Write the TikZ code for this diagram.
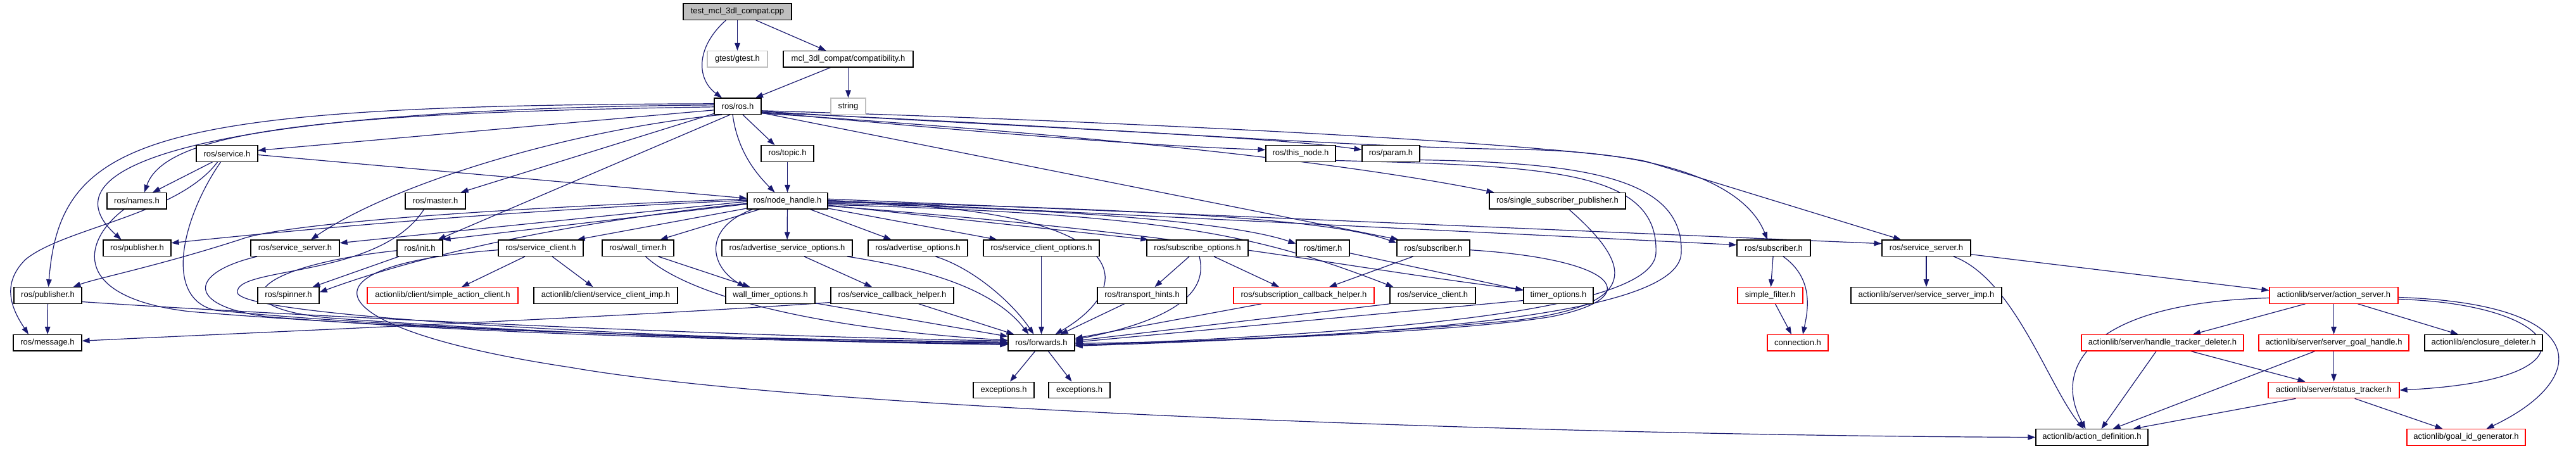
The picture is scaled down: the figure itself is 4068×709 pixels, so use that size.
\documentclass[tikz,border=0pt]{standalone}
\usepackage{fontspec}
\setmainfont{Liberation Sans}
\usetikzlibrary{arrows.meta}
\definecolor{edgeblue}{HTML}{191970}
\definecolor{nodered}{HTML}{FF0000}
\definecolor{nodegray}{HTML}{BFBFBF}
\pgfdeclarelayer{bg}
\pgfsetlayers{bg,main}
\newcommand{\nodelabelfont}{\fontsize{13}{15}\selectfont}
\tikzset{
  nd/.style={draw=black, line width=1.2pt, fill=white, minimum height=25.5pt, inner sep=0pt, font=\nodelabelfont},
  ndred/.style={nd, draw=nodered},
  ndgray/.style={nd, draw=nodegray},
  e/.style={draw=edgeblue, line width=1.2pt, -{Triangle[length=12pt,width=8.5pt]}},
}
\begin{document}
\begin{tikzpicture}[x=1pt,y=-1pt]
\useasboundingbox (0,0) rectangle (4068,709);
% row 1
\node[nd, fill=nodegray, minimum width=171pt] (T) at (1164.5,18.5) {test\_mcl\_3dl\_compat.cpp};
% row 2
\node[ndgray, minimum width=95pt] (gtest) at (1164.5,93.3) {gtest/gtest.h};
\node[nd, minimum width=205pt] (compat) at (1339.5,93.3) {mcl\_3dl\_compat/compatibility.h};
% row 3
\node[nd, minimum width=74pt] (ros) at (1165,167.8) {ros/ros.h};
\node[ndgray, minimum width=55pt] (string) at (1339.5,167.8) {string};
% row 4
\node[nd, minimum width=97pt] (service) at (358.5,242.5) {ros/service.h};
\node[nd, minimum width=83pt] (topic) at (1243.5,242.5) {ros/topic.h};
\node[nd, minimum width=110pt] (thisnode) at (2054,242.5) {ros/this\_node.h};
\node[nd, minimum width=91pt] (param) at (2196.5,242.5) {ros/param.h};
% row 5
\node[nd, minimum width=94pt] (names) at (216,317.2) {ros/names.h};
\node[nd, minimum width=95pt] (master) at (687.5,317.2) {ros/master.h};
\node[nd, minimum width=127pt] (nh) at (1243.5,317.2) {ros/node\_handle.h};
\node[nd, minimum width=215pt] (ssp) at (2459.5,317.2) {ros/single\_subscriber\_publisher.h};
% row 6
\node[nd, minimum width=107pt] (pubA) at (216.5,391.7) {ros/publisher.h};
\node[nd, minimum width=140pt] (ssrvA) at (466,391.7) {ros/service\_server.h};
\node[nd, minimum width=72pt] (init) at (663,391.7) {ros/init.h};
\node[nd, minimum width=134pt] (sclA) at (854,391.7) {ros/service\_client.h};
\node[nd, minimum width=113pt] (wtimer) at (1007.5,391.7) {ros/wall\_timer.h};
\node[nd, minimum width=206pt] (aso) at (1243,391.7) {ros/advertise\_service\_options.h};
\node[nd, minimum width=157pt] (ao) at (1449.5,391.7) {ros/advertise\_options.h};
\node[nd, minimum width=183pt] (sco) at (1644.5,391.7) {ros/service\_client\_options.h};
\node[nd, minimum width=160pt] (subo) at (1891,391.7) {ros/subscribe\_options.h};
\node[nd, minimum width=84pt] (timer) at (2089,391.7) {ros/timer.h};
\node[nd, minimum width=115pt] (subA) at (2263.5,391.7) {ros/subscriber.h};
\node[nd, minimum width=116pt] (subB) at (2801,391.7) {ros/subscriber.h};
\node[nd, minimum width=140pt] (ssrvB) at (3042,391.7) {ros/service\_server.h};
% row 7
\node[nd, minimum width=107pt] (pubB) at (75.5,466.5) {ros/publisher.h};
\node[nd, minimum width=97pt] (spinner) at (455.5,466.5) {ros/spinner.h};
\node[ndred, minimum width=238pt] (sac) at (699,466.5) {actionlib/client/simple\_action\_client.h};
\node[nd, minimum width=227pt] (scimp) at (956.5,466.5) {actionlib/client/service\_client\_imp.h};
\node[nd, minimum width=141pt] (wto) at (1216.5,466.5) {wall\_timer\_options.h};
\node[nd, minimum width=194pt] (sch) at (1409,466.5) {ros/service\_callback\_helper.h};
\node[nd, minimum width=141pt] (th) at (1803.5,466.5) {ros/transport\_hints.h};
\node[ndred, minimum width=222pt] (subcb) at (2059,466.5) {ros/subscription\_callback\_helper.h};
\node[nd, minimum width=135pt] (sclB) at (2262.5,466.5) {ros/service\_client.h};
\node[nd, minimum width=110pt] (tio) at (2461,466.5) {timer\_options.h};
\node[ndred, minimum width=103pt] (sfilt) at (2795.5,466.5) {simple\_filter.h};
\node[nd, minimum width=238pt] (ssimp) at (3042,466.5) {actionlib/server/service\_server\_imp.h};
\node[ndred, minimum width=203pt] (asrv) at (3685.5,466.5) {actionlib/server/action\_server.h};
% row 8
\node[nd, minimum width=108pt] (msg) at (75,541.3) {ros/message.h};
\node[nd, minimum width=105pt] (fwd) at (1644.5,541.3) {ros/forwards.h};
\node[ndred, minimum width=96pt] (conn) at (2839,541.3) {connection.h};
\node[ndred, minimum width=256pt] (htd) at (3415,541.3) {actionlib/server/handle\_tracker\_deleter.h};
\node[ndred, minimum width=237pt] (sgh) at (3685.5,541.3) {actionlib/server/server\_goal\_handle.h};
\node[nd, minimum width=186pt] (encl) at (3922,541.3) {actionlib/enclosure\_deleter.h};
% row 9
\node[nd, minimum width=96pt] (exA) at (1585,616) {exceptions.h};
\node[nd, minimum width=97pt] (exB) at (1704.5,616) {exceptions.h};
\node[ndred, minimum width=207pt] (stt) at (3685.5,616) {actionlib/server/status\_tracker.h};
% row 10
\node[nd, minimum width=177pt] (adef) at (3303.5,690.5) {actionlib/action\_definition.h};
\node[ndred, minimum width=187pt] (gid) at (3894.5,690.5) {actionlib/goal\_id\_generator.h};

\begin{pgfonlayer}{bg}
\fill[white] (0,0) rectangle (4068,709);
% top
\draw[e] ([xshift=-18pt]T.south) .. controls (1098,75) and (1100,125) .. ([xshift=-25pt]ros.north);
\draw[e] (T) -- (gtest);
\draw[e] ([xshift=29pt]T.south) -- ([xshift=-35pt]compat.north);
\draw[e] ([xshift=-28pt]compat.south) -- ([xshift=28pt]ros.north);
\draw[e] (compat) -- (string);
% ros.h
\draw[e] ([yshift=-6pt]ros.west) -- ([yshift=5pt]service.east);
\draw[e] ([yshift=-1pt]ros.west) .. controls (520,178) and (262,205) .. ([xshift=12pt]names.north);
\draw[e] ([yshift=2pt]ros.west) .. controls (330,172) and (60,260) .. ([xshift=-25pt]pubA.north);
\draw[e] ([yshift=4pt]ros.west) .. controls (240,166) and (95,215) .. ([xshift=1pt]pubB.north);
\draw[e] (ros) -- ([xshift=40pt]master.north);
\draw[e] ([xshift=-25pt]ros.south) .. controls (900,205) and (620,290) .. ([xshift=25pt]ssrvA.north);
\draw[e] ([xshift=-12pt]ros.south) -- ([xshift=-8pt]init.north east);
\draw[e] ([xshift=-8pt]ros.south) .. controls (1165,240) and (1195,275) .. ([xshift=-20pt]nh.north);
\draw[e] ([xshift=8pt]ros.south) -- ([xshift=-20pt]topic.north);
\draw[e] (topic) -- (nh);
\draw[e] ([yshift=-9pt]ros.east) .. controls (1500,205) and (1800,230) .. ([yshift=6pt]thisnode.west);
\draw[e] ([yshift=-8pt]ros.east) .. controls (1600,200) and (2000,215) .. ([yshift=6pt]param.west);
\draw[e] ([yshift=-11pt]ros.east) .. controls (1700,212) and (2100,252) .. ([xshift=-100pt]ssp.north);
\draw[e] ([yshift=3pt]ros.south east) -- ([xshift=-55pt]subA.north);
\draw[e] ([yshift=-10pt]ros.east) .. controls (1700,198) and (2100,232) .. (2400,236) .. controls (2650,240) and (2760,300) .. ([xshift=-10pt]subB.north);
\draw[e] ([yshift=-7pt]ros.east) .. controls (1800,192) and (2480,228) .. (2600,255) -- ([xshift=-40pt]ssrvB.north);
% service.h
\draw[e] ([xshift=-23pt]service.south) -- ([xshift=25pt]names.north);
\draw[e] ([yshift=-2pt]service.east) -- ([yshift=4pt]nh.west);
\draw[e] ([xshift=-15pt]service.south) .. controls (280,340) and (100,360) .. (40,410) .. controls (0,450) and (20,490) .. ([xshift=-30pt]msg.north);
\draw[e] ([xshift=-10pt]service.south) .. controls (290,340) and (255,470) .. (340,490) .. controls (700,525) and (1200,535) .. (fwd.west);
% left group into forwards
\draw[e] ([xshift=-20pt]names.south) .. controls (130,380) and (110,470) .. (300,492) .. controls (700,525) and (1200,535) .. ([yshift=1pt]fwd.west);
\draw[e] ([yshift=-10pt]pubB.east) .. controls (400,495) and (1100,530) .. ([yshift=3pt]fwd.west);
\draw[e] (pubB) -- (msg);
\draw[e] ([xshift=-60pt]ssrvA.south) .. controls (300,430) and (290,482) .. (420,500) .. controls (800,530) and (1200,538) .. ([yshift=-1pt]fwd.west);
\draw[e] ([xshift=-18pt]master.south) .. controls (600,440) and (370,420) .. (375,462) .. controls (380,505) and (1200,540) .. ([yshift=-2pt]fwd.west);
\draw[e] ([yshift=-4pt]init.west) .. controls (400,420) and (340,485) .. (520,502) .. controls (900,530) and (1300,540) .. ([yshift=-3pt]fwd.west);
\draw[e] ([xshift=-33pt]init.south) -- ([xshift=38pt]spinner.north);
% node_handle.h
\draw[e] ([yshift=1pt]nh.west) .. controls (800,333) and (500,360) .. ([yshift=8pt]pubA.east);
\draw[e] ([yshift=3pt]nh.west) .. controls (800,328) and (450,352) .. (380,378) .. controls (250,420) and (150,440) .. ([xshift=40pt]pubB.north);
\draw[e] ([yshift=-1pt]nh.west) -- ([yshift=8pt]ssrvA.east);
\draw[e] ([yshift=-5pt]nh.west) -- (init.north east);
\draw[e] ([yshift=-4pt]nh.west) .. controls (950,345) and (700,390) .. ([yshift=5pt]spinner.east);
\draw[e] (nh) -- ([xshift=-10pt]sclA.north east);
\draw[e] (nh) -- ([xshift=35pt]wtimer.north);
\draw[e] (nh) -- (aso);
\draw[e] ([xshift=-55pt]nh.south) .. controls (1110,360) and (1120,420) .. ([xshift=-40pt]wto.north);
\draw[e] (nh) -- ([xshift=-42pt]ao.north);
\draw[e] (nh) -- ([xshift=-70pt]sco.north);
\draw[e] (nh) -- ([xshift=3pt]subo.north west);
\draw[e] ([yshift=-4pt]nh.east) .. controls (1700,330) and (1950,352) .. ([yshift=7pt]timer.west);
\draw[e] ([yshift=-1pt]nh.east) .. controls (1800,330) and (2100,345) .. ([yshift=8pt]subA.west);
\draw[e] ([yshift=1pt]nh.east) -- ([yshift=5pt]subB.west);
\draw[e] ([yshift=3pt]nh.east) -- ([yshift=7pt]ssrvB.west);
\draw[e] ([yshift=-6pt]nh.east) .. controls (1850,338) and (1990,372) .. ([xshift=-62pt]sclB.north);
\draw[e] ([yshift=-8pt]nh.east) .. controls (1900,370) and (2100,420) .. ([yshift=9pt]tio.west);
\draw[e] ([yshift=-2pt]nh.east) .. controls (1800,325) and (1800,450) .. ([xshift=22pt]fwd.north);
% service_client.h
\draw[e] ([xshift=-25pt]sclA.south) -- ([xshift=30pt]sac.north);
\draw[e] ([xshift=18pt]sclA.south) -- ([xshift=-20pt]scimp.north);
\draw[e] ([yshift=-3pt]sclA.west) .. controls (450,420) and (500,520) .. (900,580) .. controls (1300,650) and (2500,688) .. (adef.west);
% middle row into forwards
\draw[e] ([xshift=32pt]wtimer.south) -- ([xshift=-32pt]wto.north);
\draw[e] ([xshift=12pt]wtimer.south) .. controls (1090,470) and (1300,520) .. ([yshift=4pt]fwd.west);
\draw[e] (wto) -- ([yshift=10pt]fwd.west);
\draw[e] ([xshift=27pt]aso.south) -- ([xshift=-32pt]sch.north);
\draw[e] ([xshift=95pt]aso.south) .. controls (1500,430) and (1580,470) .. ([xshift=-20pt]fwd.north);
\draw[e] (sch) -- ([xshift=10pt]fwd.north west);
\draw[e] ([yshift=-11pt]sch.west) .. controls (1000,500) and (400,525) .. ([yshift=3pt]msg.east);
\draw[e] ([xshift=28pt]ao.south) .. controls (1540,425) and (1600,480) .. ([xshift=-12pt]fwd.north);
\draw[e] (sco) -- (fwd);
\draw[e] ([xshift=-13pt]subo.south) -- ([xshift=20pt]th.north);
\draw[e] ([xshift=26pt]subo.south) -- ([xshift=-39pt]subcb.north);
\draw[e] ([xshift=3pt]subo.south) .. controls (1905,450) and (1880,500) .. ([yshift=5pt]fwd.east);
\draw[e] (th) -- ([xshift=30pt]fwd.north);
\draw[e] ([xshift=-67pt]subcb.south) -- ([yshift=7pt]fwd.east);
\draw[e] (sclB.south west) -- ([yshift=3pt]fwd.east);
\draw[e] ([yshift=-8pt]tio.west) -- ([yshift=1pt]fwd.east);
\draw[e] ([yshift=-8pt]timer.east) -- ([yshift=8pt]tio.west);
\draw[e] ([xshift=-32pt]subA.south) -- ([xshift=40pt]subcb.north);
\draw[e] ([yshift=-3pt]subA.east) .. controls (2560,410) and (2600,470) .. (2450,500) .. controls (2300,525) and (1900,540) .. ([yshift=-1pt]fwd.east);
\draw[e] ([xshift=18pt]ssp.south) .. controls (2580,420) and (2590,480) .. (2400,505) .. controls (2200,525) and (1900,540) .. ([yshift=-3pt]fwd.east);
\draw[e] ([yshift=-11pt]thisnode.east) .. controls (2450,262) and (2620,270) .. (2615,400) .. controls (2610,490) and (2200,525) .. ([yshift=-4pt]fwd.east);
\draw[e] ([yshift=-10pt]param.east) .. controls (2500,257) and (2660,280) .. (2655,400) .. controls (2650,500) and (2200,530) .. ([yshift=-5pt]fwd.east);
\draw[e] ([xshift=-10pt]fwd.south) -- ([xshift=10pt]exA.north);
\draw[e] ([xshift=11pt]fwd.south) -- ([xshift=-12pt]exB.north);
% subscriber (2)
\draw[e] (subB) -- (sfilt);
\draw[e] ([xshift=15pt]subB.south) .. controls (2865,440) and (2855,490) .. ([xshift=8pt]conn.north);
\draw[e] ([xshift=8pt]sfilt.south) -- ([xshift=-10pt]conn.north);
% service_server (2) and actionlib
\draw[e] (ssrvB) -- (ssimp);
\draw[e] ([yshift=-10pt]ssrvB.east) -- ([yshift=8pt]asrv.west);
\draw[e] ([xshift=43pt]ssrvB.south) .. controls (3180,440) and (3235,610) .. ([xshift=-13pt]adef.north);
\draw[e] ([yshift=-4pt]asrv.west) .. controls (3300,478) and (3240,580) .. ([xshift=-10pt]adef.north);
\draw[e] ([xshift=-45pt]asrv.south) -- ([xshift=48pt]htd.north);
\draw[e] (asrv) -- (sgh);
\draw[e] ([xshift=38pt]asrv.south) -- ([xshift=-40pt]encl.north);
\draw[e] ([yshift=-6pt]asrv.east) .. controls (4050,480) and (4120,600) .. (stt.east);
\draw[e] ([yshift=-3pt]asrv.east) .. controls (4100,480) and (4090,600) .. ([xshift=32pt]gid.north);
\draw[e] ([xshift=-10pt]htd.south) -- ([xshift=15pt]adef.north);
\draw[e] ([xshift=45pt]htd.south) -- ([xshift=-45pt]stt.north);
\draw[e] ([xshift=-30pt]sgh.south) -- ([xshift=33pt]adef.north);
\draw[e] (sgh) -- (stt);
\draw[e] ([xshift=-60pt]stt.south) -- ([xshift=65pt]adef.north);
\draw[e] ([xshift=33pt]stt.south) -- ([xshift=-37pt]gid.north);
\end{pgfonlayer}
\end{tikzpicture}
\end{document}
